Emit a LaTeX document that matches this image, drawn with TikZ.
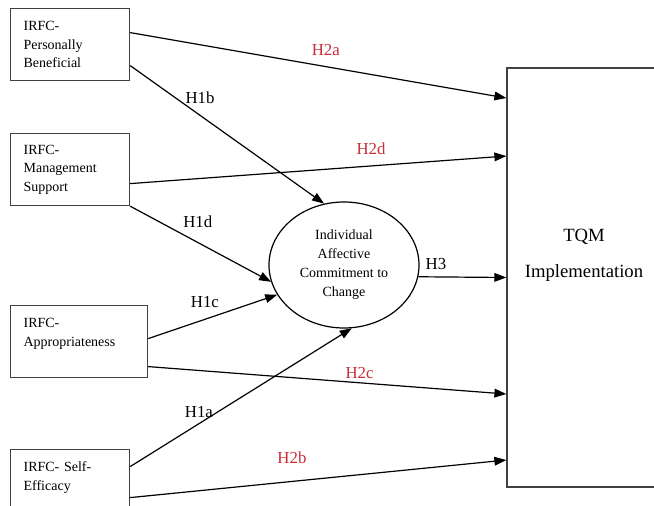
\documentclass[tikz,border=0pt]{standalone}
\usepackage{fontspec}
\setmainfont{Liberation Serif}
\usetikzlibrary{shapes.geometric,arrows.meta}
\definecolor{hypred}{RGB}{200,45,55}

\begin{document}
\begin{tikzpicture}[x=0.75pt, y=-0.75pt,
        factor/.style={draw=black!75, line width=0.9pt, rectangle, anchor=north west,
            align=left, text width=#1, inner xsep=9.75pt, inner ysep=0pt,
            minimum height=54pt, font=\fontsize{10.5}{13.9}\selectfont},
        mediator/.style={draw, line width=0.9pt, ellipse, align=center, inner sep=0pt,
            minimum width=112.5pt, minimum height=94.5pt,
            font=\fontsize{10.5}{14.25}\selectfont},
        outcome/.style={draw=black!75, line width=0.9pt, rectangle, inner sep=0pt,
            minimum width=115.5pt, minimum height=314.25pt},
        link/.style={line width=0.9pt, -{Triangle[length=9pt,width=6.5pt]}},
        hyp/.style={font=\fontsize{12.6}{15}\selectfont, inner sep=0pt},
        hypr/.style={hyp, text=hypred}]
            \useasboundingbox (0,0) rectangle (654,506);
            \clip (0,0) rectangle (654,506);

            % draw antecedent boxes
                \node[factor=69.75pt] (pb) at (10,8) {IRFC-\\Personally\\Beneficial};
                \node[factor=69.75pt] (ms) at (10,133) {IRFC-\\Management\\Support};
                \node[factor=83.25pt] (ap) at (10,305) {IRFC-\\Appropriateness\\~};
                \node[factor=69.75pt] (se) at (10,449) {IRFC- Self-\\Efficacy\\~};

            % draw mediator and outcome
                \node[mediator] (ice) at (344,265) {Individual\\Affective\\Commitment to\\Change};
                \node[outcome, label={[font=\fontsize{14}{27}\selectfont, align=center, yshift=17pt]center:TQM\\Implementation}] (tqm) at (584,277.5) {};

            % H1 paths to mediator
                \draw[link] ([yshift=-15.75pt]pb.east) -- (ice.108) node[hyp, pos=0.36, yshift=13.4pt] {H1b};
                \draw[link] (ms.south east) -- (ice.193) node[hyp, pos=0.48, yshift=15.8pt] {H1d};
                \draw[link] ([yshift=2.25pt]ap.east) -- (ice.204) node[hyp, pos=0.44, yshift=12.8pt] {H1c};
                \draw[link] ([yshift=14.25pt]se.east) -- (ice.277) node[hyp, pos=0.31, yshift=8.7pt] {H1a};

            % H2 paths to outcome
                \draw[link] ([yshift=9pt]pb.east) -- ([yshift=134.6pt]tqm.west) node[hypr, pos=0.52, yshift=12.5pt] {H2a};
                \draw[link] ([yshift=-10.5pt]ms.east) -- ([yshift=91.1pt]tqm.west) node[hypr, pos=0.64, yshift=13.2pt] {H2d};
                \draw[link] ([yshift=-18.75pt]ap.east) -- ([yshift=-87.4pt]tqm.west) node[hypr, pos=0.59, yshift=7.2pt] {H2c};
                \draw[link] ([yshift=-9pt]se.east) -- ([yshift=-136.9pt]tqm.west) node[hypr, pos=0.43, yshift=17.4pt] {H2b};

            % H3
                \draw[link] (ice.-9.7) -- (tqm.west) node[hyp, pos=0.2, yshift=9.75pt] {H3};
\end{tikzpicture}
\end{document}
